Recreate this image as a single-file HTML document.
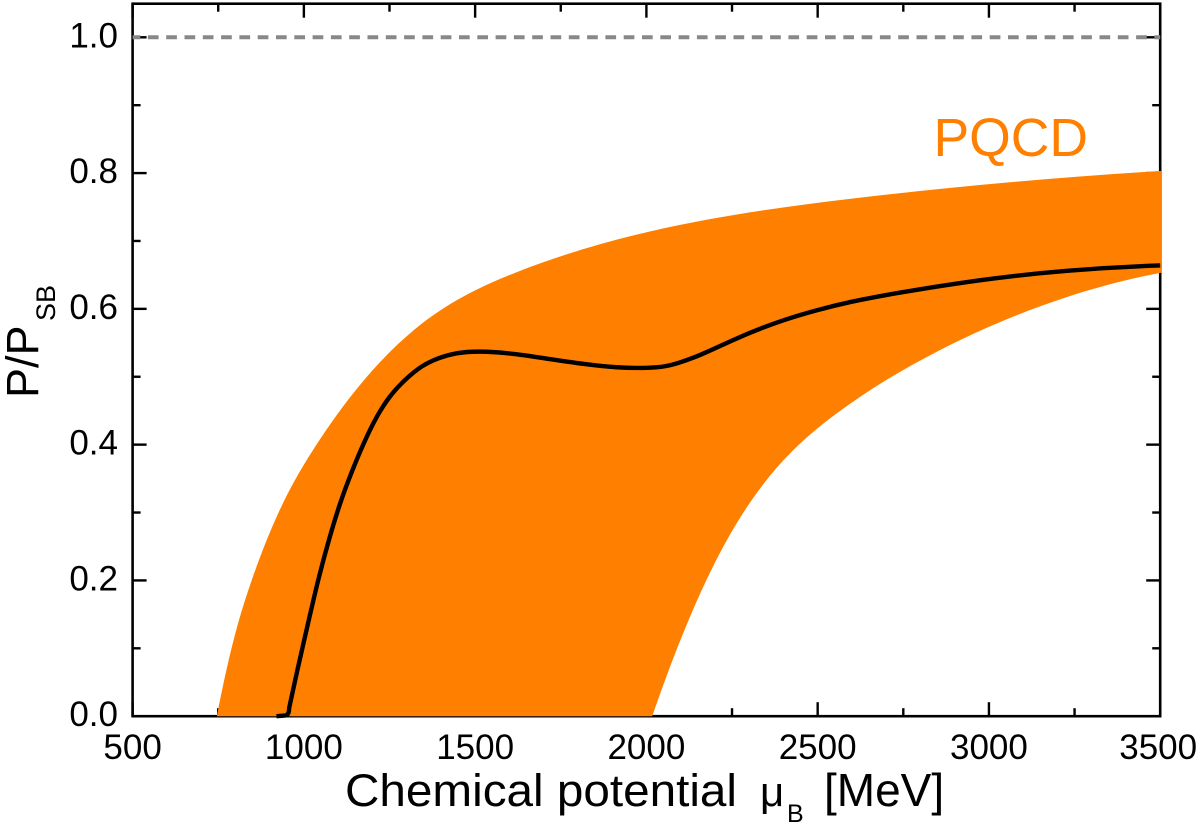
<!DOCTYPE html>
<html lang="en">
<head>
<meta charset="utf-8">
<title>P/PSB vs chemical potential</title>
<style>
html,body{margin:0;padding:0;background:#fff;width:1200px;height:824px;overflow:hidden}
svg{display:block;font-family:"Liberation Sans",Arial,sans-serif}
</style>
</head>
<body>
<svg id="chart" xmlns="http://www.w3.org/2000/svg" width="1200" height="824" viewBox="0 0 1200 824">
  <rect width="1200" height="824" fill="#fff"/>
  <g id="axes"></g>
  <g id="marks"></g>
  <g id="labels"></g>
  <text x="933.5" y="156" font-size="53.5" fill="#ff8000">PQCD</text>
  <g fill="#000">
    <text x="345" y="806" font-size="45" textLength="392" lengthAdjust="spacingAndGlyphs">Chemical potential</text>
    <text x="760" y="806" font-size="42">μ</text>
    <text x="787" y="822" font-size="25">B</text>
    <text x="824" y="806" font-size="46">[MeV]</text>
  </g>
  <g fill="#000">
    <text transform="translate(38 398) rotate(-90)" font-size="45">P/P</text>
    <text transform="translate(55 321) rotate(-90)" font-size="27">SB</text>
  </g>
</svg>
<script>
// Axis ranges and ticks
const xDomain = [500, 3500];
const yDomain = [0, 1];
const xMajorTicks = [500, 1000, 1500, 2000, 2500, 3000, 3500];
const xMinorTicks = [750, 1250, 1750, 2250, 2750, 3250];
const yMajorTicks = [0, 0.2, 0.4, 0.6, 0.8, 1.0];
const yMinorTicks = [0.1, 0.3, 0.5, 0.7, 0.9];
const xTickLabels = ['500', '1000', '1500', '2000', '2500', '3000', '3500'];
const yTickLabels = ['0.0', '0.2', '0.4', '0.6', '0.8', '1.0'];

// PQCD band: upper edge
const upperMu = [746, 800, 848, 925, 1033, 1164, 1324, 1621, 2010, 2594, 3500];
const upperP = [0, 0.122, 0.2006, 0.2988, 0.397, 0.488, 0.570, 0.654, 0.714, 0.762, 0.803];
// PQCD band: lower edge
const lowerMu = [2017, 2127, 2224.5, 2351, 2555.6, 2852, 3225, 3500];
const lowerP = [0, 0.146, 0.2497, 0.348, 0.446, 0.538, 0.617, 0.653];
// Central black curve
const curveMu = [920, 944, 957, 982, 1010, 1042, 1076, 1105, 1140, 1175, 1213, 1250, 1295, 1344, 1392, 1446, 1514, 1622, 1718, 1815, 1914, 1990, 2060, 2120, 2156, 2253, 2399, 2498, 2595, 2741, 3033, 3228, 3500];
const curveP = [0, 0.001, 0.012, 0.070, 0.132, 0.2006, 0.2645, 0.312, 0.360, 0.402, 0.441, 0.470, 0.495, 0.515, 0.527, 0.5345, 0.537, 0.533, 0.526, 0.519, 0.514, 0.513, 0.516, 0.525, 0.532, 0.554, 0.583, 0.598, 0.610, 0.624, 0.646, 0.656, 0.664];
// Stefan-Boltzmann reference line
const referenceP = [1.0];

const NS = 'http://www.w3.org/2000/svg';
const LEFT = 132.6, RIGHT = 1160.2, BOTTOM = 716.2, TOP_VALUE_Y = 37.3, FRAME_TOP = 3.7;

function xScale(v) {
  return LEFT + (v - xDomain[0]) / (xDomain[1] - xDomain[0]) * (RIGHT - LEFT);
}
function yScale(v) {
  return BOTTOM + (v - yDomain[0]) / (yDomain[1] - yDomain[0]) * (TOP_VALUE_Y - BOTTOM);
}
function make(tag, attrs, parent) {
  const el = document.createElementNS(NS, tag);
  for (const k in attrs) el.setAttribute(k, attrs[k]);
  parent.appendChild(el);
  return el;
}
// Cubic spline with parabolic run-out ends, returned as bezier segments in pixel space.
// The first point is not emitted, so callers can chain segments.
function splineSegments(xs, ys) {
  const px = xs.map(xScale), py = ys.map(yScale), n = px.length;
  const h = [];
  for (let i = 0; i < n - 1; i++) h[i] = px[i + 1] - px[i];
  const a = new Array(n).fill(0), b = new Array(n).fill(1), c = new Array(n).fill(0), r = new Array(n).fill(0);
  c[0] = -1;
  a[n - 1] = -1;
  for (let i = 1; i < n - 1; i++) {
    a[i] = h[i - 1];
    b[i] = 2 * (h[i - 1] + h[i]);
    c[i] = h[i];
    r[i] = 6 * ((py[i + 1] - py[i]) / h[i] - (py[i] - py[i - 1]) / h[i - 1]);
  }
  for (let i = 1; i < n; i++) {
    const f = a[i] / b[i - 1];
    b[i] -= f * c[i - 1];
    r[i] -= f * r[i - 1];
  }
  const M = new Array(n).fill(0);
  M[n - 1] = r[n - 1] / b[n - 1];
  for (let i = n - 2; i >= 0; i--) M[i] = (r[i] - c[i] * M[i + 1]) / b[i];
  let d = '';
  for (let i = 0; i < n - 1; i++) {
    const s = (py[i + 1] - py[i]) / h[i];
    const m0 = s - h[i] * (2 * M[i] + M[i + 1]) / 6;
    const m1 = s + h[i] * (M[i] + 2 * M[i + 1]) / 6;
    const dx = h[i] / 3;
    d += 'C' + (px[i] + dx).toFixed(2) + ' ' + (py[i] + m0 * dx).toFixed(2) + ' '
      + (px[i + 1] - dx).toFixed(2) + ' ' + (py[i + 1] - m1 * dx).toFixed(2) + ' '
      + px[i + 1].toFixed(2) + ' ' + py[i + 1].toFixed(2);
  }
  return d;
}
function pt(x, y) {
  return xScale(x).toFixed(2) + ' ' + yScale(y).toFixed(2);
}

const axes = document.getElementById('axes');
const marks = document.getElementById('marks');
const labels = document.getElementById('labels');
const AXIS_STYLE = { stroke: '#000', 'stroke-width': 2.6, fill: 'none' };

const frame = make('rect', Object.assign({ x: LEFT, y: FRAME_TOP, width: RIGHT - LEFT, height: BOTTOM - FRAME_TOP }, AXIS_STYLE), axes);



function xTick(v, len, major) {
  const px = xScale(v);
  const b = make('line', { x1: px, x2: px, y1: BOTTOM, y2: BOTTOM - len, stroke: '#000', 'stroke-width': 2.4 }, axes);
  
  
  const t = make('line', { x1: px, x2: px, y1: FRAME_TOP, y2: FRAME_TOP + len, stroke: '#000', 'stroke-width': 2.4 }, axes);
  
  
}
function yTick(v, len, major) {
  const py = yScale(v);
  const l = make('line', { x1: LEFT, x2: LEFT + len, y1: py, y2: py, stroke: '#000', 'stroke-width': 2.4 }, axes);
  
  
  const r = make('line', { x1: RIGHT, x2: RIGHT - len, y1: py, y2: py, stroke: '#000', 'stroke-width': 2.4 }, axes);
  
  
}
xMajorTicks.forEach(v => xTick(v, 14, true));
xMinorTicks.forEach(v => xTick(v, 8, false));
yMajorTicks.forEach(v => yTick(v, 14, true));
yMinorTicks.forEach(v => yTick(v, 8, false));

xMajorTicks.forEach((v, i) => {
  const anchorX = i === xMajorTicks.length - 1 ? xScale(v) - 2 : xScale(v);
  const t = make('text', { x: anchorX, y: 759, 'font-size': 35, 'text-anchor': 'middle', fill: '#000' }, labels);
  t.textContent = xTickLabels[i];
  
  
});
yMajorTicks.forEach((v, i) => {
  const t = make('text', { x: 118, y: yScale(v) + 10, 'font-size': 35, 'text-anchor': 'end', fill: '#000' }, labels);
  t.textContent = yTickLabels[i];
  
  
});

const edgeX = (xScale(xDomain[1]) + 1).toFixed(2);
const bandD = 'M' + pt(upperMu[0], upperP[0])
  + splineSegments(upperMu, upperP)
  + 'L' + edgeX + ' ' + yScale(upperP[upperP.length - 1]).toFixed(2)
  + 'L' + edgeX + ' ' + yScale(lowerP[lowerP.length - 1]).toFixed(2)
  + 'L' + pt(lowerMu[lowerMu.length - 1], lowerP[lowerP.length - 1])
  + splineSegments(lowerMu.slice().reverse(), lowerP.slice().reverse())
  + 'Z';
const band = make('path', { d: bandD, fill: '#ff8000' }, marks);



// The foot of the curve is a small rounded step; the rest is a smooth spline
const curveD = 'M' + pt(curveMu[0], curveP[0])
  + 'L' + pt(curveMu[1], curveP[1])
  + 'Q' + xScale(curveMu[2]).toFixed(2) + ' ' + yScale(curveP[1]).toFixed(2) + ' ' + pt(curveMu[2], curveP[2])
  + splineSegments(curveMu.slice(2), curveP.slice(2));
const curve = make('path', { d: curveD, fill: 'none', stroke: '#000', 'stroke-width': 4.4, 'stroke-linejoin': 'round' }, marks);



referenceP.forEach(v => {
  const ref = make('line', { x1: xScale(xDomain[0]), x2: xScale(xDomain[1]), y1: yScale(v), y2: yScale(v), stroke: '#888', 'stroke-width': 4, 'stroke-dasharray': '10.7 7.6', 'stroke-dashoffset': 3 }, marks);
  
  
});
</script>
</body>
</html>
